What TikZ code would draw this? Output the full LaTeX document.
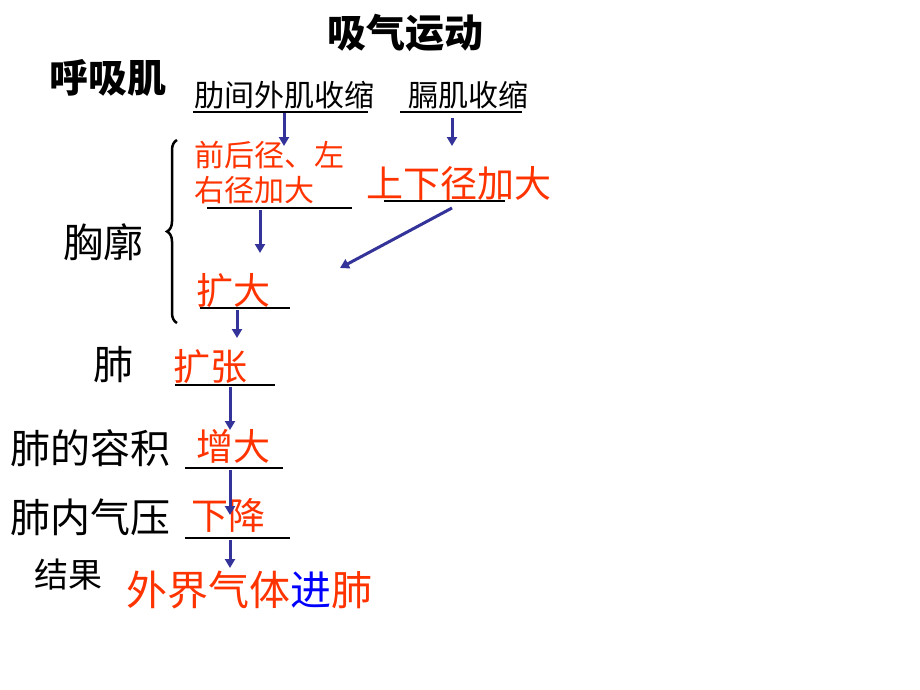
\documentclass[tikz,border=0pt]{standalone}
\usepackage{fontspec}
\setmainfont{Noto Sans CJK SC}
\usetikzlibrary{decorations.pathreplacing,arrows.meta}
\definecolor{rd}{HTML}{FF3300}
\definecolor{ar}{HTML}{333399}
\begin{document}
\begin{tikzpicture}[x=1pt,y=-1pt,
  t/.style={inner sep=0pt,anchor=center},
  r/.style={t,text=rd},
  ul/.style={line width=2.5pt,black},
  arr/.style={ar,line width=3pt,-{Triangle[length=9pt,width=10pt]}}]
\useasboundingbox (0,0) rectangle (920,690);
\node[t,font=\fontsize{39}{40}\selectfont\bfseries] (title) at (405,33) {吸气运动};
\node[t,font=\fontsize{39}{40}\selectfont\bfseries] (hxj) at (108,78) {呼吸肌};
\node[t,font=\fontsize{30}{32}\selectfont] (lj) at (284,95) {肋间外肌收缩};
\node[t,font=\fontsize{30}{32}\selectfont] (gj) at (468,95) {膈肌收缩};
\draw[ul] (193,112) -- (368,112);
\draw[ul] (400,112) -- (522,112);
\node[r,font=\fontsize{30}{32}\selectfont] (qh) at (269,155) {前后径、左};
\node[r,font=\fontsize{30}{32}\selectfont] (yj) at (254,190) {右径加大};
\draw[ul] (207,208) -- (352,208);
\node[r,font=\fontsize{37}{40}\selectfont] (sx) at (459,183) {上下径加大};
\draw[ul] (384,201) -- (505,201);
\node[t,font=\fontsize{40}{40}\selectfont] (xk) at (103,242) {胸廓};
\draw[line width=2.5pt,decorate,decoration={brace,amplitude=10pt}] (177,323) -- (177,140);
\node[r,font=\fontsize{37}{40}\selectfont] (kd) at (233,291) {扩大};
\draw[ul] (200,308) -- (290,308);
\node[t,font=\fontsize{40}{40}\selectfont] (fei) at (113,365) {肺};
\node[r,font=\fontsize{37}{40}\selectfont] (kz) at (210,367) {扩张};
\draw[ul] (175,385) -- (275,385);
\node[t,font=\fontsize{40}{40}\selectfont] (rj) at (90,448) {肺的容积};
\node[r,font=\fontsize{37}{40}\selectfont] (zd) at (233,446) {增大};
\draw[ul] (185,468) -- (283,468);
\node[t,font=\fontsize{40}{40}\selectfont] (qy) at (90,517) {肺内气压};
\node[r,font=\fontsize{37}{40}\selectfont] (xj) at (228,515) {下降};
\draw[ul] (185,538) -- (290,538);
\node[t,font=\fontsize{34}{36}\selectfont] (jg) at (68,575) {结果};
\node[r,font=\fontsize{41}{44}\selectfont] (res) at (249,590) {外界气体{\color{blue}进}肺};
\draw[arr] (284,113) -- (284,146);
\draw[arr] (452,118) -- (452,146);
\draw[arr] (260,210) -- (260,253);
\draw[arr] (452,208) -- (340,268);
\draw[arr] (237,310) -- (237,338);
\draw[arr] (230,387) -- (230,430);
\draw[arr] (230,470) -- (230,515);
\draw[arr] (230,540) -- (230,568);
\end{tikzpicture}
\end{document}
